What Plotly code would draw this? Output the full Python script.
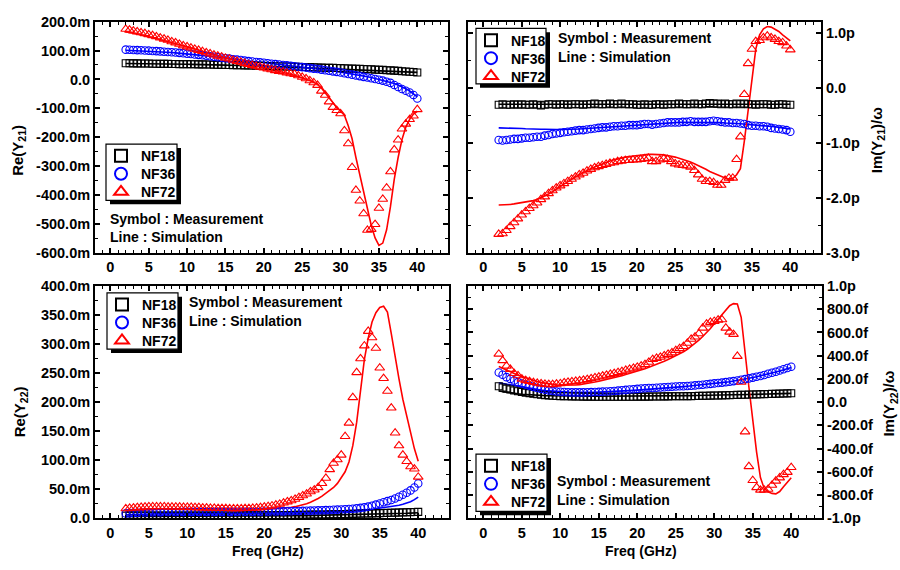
import plotly.graph_objects as go

FONT = "Liberation Sans, Arial, Helvetica, sans-serif"

# ---------------------------------------------------------------- data
freq = [
    2.0, 2.5, 3.0, 3.5, 4.0, 4.5, 5.0, 5.5, 6.0, 6.5,
    7.0, 7.5, 8.0, 8.5, 9.0, 9.5, 10.0, 10.5, 11.0, 11.5,
    12.0, 12.5, 13.0, 13.5, 14.0, 14.5, 15.0, 15.5, 16.0, 16.5,
    17.0, 17.5, 18.0, 18.5, 19.0, 19.5, 20.0, 20.5, 21.0, 21.5,
    22.0, 22.5, 23.0, 23.5, 24.0, 24.5, 25.0, 25.5, 26.0, 26.5,
    27.0, 27.5, 28.0, 28.5, 29.0, 29.5, 30.0, 30.5, 31.0, 31.5,
    32.0, 32.5, 33.0, 33.5, 34.0, 34.5, 35.0, 35.5, 36.0, 36.5,
    37.0, 37.5, 38.0, 38.5, 39.0, 39.5, 40.0]

devices = ["NF18", "NF36", "NF72"]

# Re(Y21) in mS
re21_nf18_meas = [
    56, 56, 55.5, 55.5, 55, 55, 55, 54.5, 54.5, 54,
    54, 54, 53.5, 53.5, 53, 53, 53, 52.5, 52.5, 52,
    52, 51.5, 51.5, 51, 51, 50.5, 50, 50, 49.5, 49,
    49, 48.5, 48, 48, 47.5, 47, 47, 46.5, 46, 45.5,
    45.5, 45, 45, 44.5, 44, 43.5, 43, 43, 42.5, 42,
    41.5, 41, 40.5, 40, 40, 39.5, 39, 38.5, 38, 37.5,
    37, 36.5, 36, 35.5, 35, 34, 33.5, 33, 32, 31.5,
    30.5, 29.5, 28.5, 27.5, 26.5, 25.5, 24]
re21_nf18_sim = [
    55, 55, 55, 55, 54.5, 54.5, 54.5, 54, 54, 54,
    53.5, 53.5, 53.5, 53, 53, 52.5, 52.5, 52, 52, 51.5,
    51.5, 51, 51, 50.5, 50, 50, 49.5, 49, 49, 48.5,
    48, 48, 47.5, 47, 46.5, 46.5, 46, 45.5, 45, 44.5,
    44, 44, 43.5, 43, 42.5, 42, 41.5, 41, 40.5, 40,
    39.5, 39, 38.5, 38, 37.5, 37, 36.5, 36, 35.5, 35,
    34.5, 34, 33.5, 33, 32.5, 32, 31.5, 31, 30, 29.5,
    29, 28, 27.5, 26.5, 26, 25, 24.5]
re21_nf36_meas = [
    103, 102.5, 102, 101.5, 101, 100, 99.5, 98.5, 98, 97,
    96, 95, 94, 93, 92, 90.5, 89, 88, 86.5, 85,
    83.5, 82, 80, 78.5, 77, 75, 73.5, 72, 70, 68.5,
    67, 65, 63.5, 62, 60.5, 59, 57.5, 56, 54.5, 53,
    51.5, 50, 48.5, 47, 45.5, 44, 42.5, 41, 39, 37.5,
    36, 34, 32, 30, 28, 26, 24, 21.5, 19, 16.5,
    14, 11.5, 9, 6.5, 4, 1.5, -1, -4, -8, -12,
    -19, -26, -33, -39, -45, -54, -66]
re21_nf36_sim = [
    101, 100.5, 100, 99.5, 99, 98.5, 98, 97.5, 96.5, 96,
    95, 94, 93, 92, 91, 89.5, 88.5, 87, 86, 84.5,
    83, 81.5, 80, 78.5, 77, 75.5, 74, 72.5, 71, 69.5,
    68, 66.5, 65, 63.5, 62, 60.5, 59, 57.5, 56, 54.5,
    53, 51.5, 50, 48.5, 47, 45.5, 44, 42.5, 41, 39,
    37.5, 36, 34, 32, 30, 28, 26, 24, 22, 19.5,
    17, 14.5, 12, 9.5, 6.5, 3.5, 0.5, -3, -6.5, -10,
    -14, -19, -25, -32, -40, -49, -60]
re21_nf72_meas = [
    174, 171, 168, 165, 162, 159, 155, 152, 148, 144,
    140, 136, 131, 127, 122, 117, 113, 109, 105, 101,
    97, 93, 89, 85, 81, 78, 74, 71, 67, 63,
    60, 56, 52, 49, 46, 43, 40, 37, 34, 31,
    28, 26, 23, 20, 18, 13, 8, 3, -4, -11,
    -20, -40, -54, -77, -96, -107, -118, -177, -222, -304,
    -383, -420, -464, -521, -518, -501, -445, -414, -375, -319,
    -243, -209, -171, -154, -138, -126, -104]
re21_nf72_sim = [
    165, 163, 160, 157, 154, 151, 148, 145, 142, 138,
    135, 131, 128, 124, 120, 116, 112, 108, 104, 100,
    97, 93, 89, 85.5, 82, 78.5, 75, 71, 67.5, 64,
    60, 57, 53.5, 50, 47, 44, 41, 38, 35, 32,
    28.5, 25, 21.5, 18, 14, 10, 5.5, 1, -4, -10,
    -17, -30, -48, -64, -80, -96, -110, -124, -160, -205,
    -270, -330, -395, -455, -505, -548, -574, -566, -520, -440,
    -345, -270, -208, -165, -138, -120, -110]

# Im(Y21)/omega in pF
im21_nf18_meas = [
    -0.31, -0.30, -0.31, -0.31, -0.30, -0.31, -0.30, -0.31, -0.31, -0.30,
    -0.31, -0.32, -0.31, -0.30, -0.30, -0.31, -0.30, -0.30, -0.31, -0.30,
    -0.30, -0.30, -0.31, -0.30, -0.30, -0.29, -0.30, -0.30, -0.30, -0.29,
    -0.30, -0.30, -0.29, -0.30, -0.30, -0.30, -0.31, -0.31, -0.30, -0.31,
    -0.31, -0.30, -0.30, -0.31, -0.30, -0.30, -0.30, -0.29, -0.30, -0.30,
    -0.30, -0.29, -0.30, -0.30, -0.29, -0.28, -0.29, -0.29, -0.30, -0.29,
    -0.30, -0.30, -0.29, -0.30, -0.29, -0.30, -0.30, -0.31, -0.30, -0.30,
    -0.30, -0.31, -0.31, -0.30, -0.30, -0.31, -0.31]
im21_nf18_sim = [
    -0.30, -0.30, -0.30, -0.30, -0.30, -0.30, -0.30, -0.30, -0.30, -0.30,
    -0.30, -0.30, -0.30, -0.30, -0.30, -0.30, -0.30, -0.30, -0.30, -0.30,
    -0.30, -0.30, -0.30, -0.30, -0.30, -0.30, -0.30, -0.30, -0.30, -0.30,
    -0.30, -0.30, -0.30, -0.30, -0.30, -0.30, -0.30, -0.30, -0.30, -0.30,
    -0.30, -0.30, -0.30, -0.30, -0.30, -0.30, -0.30, -0.30, -0.30, -0.30,
    -0.30, -0.30, -0.30, -0.30, -0.30, -0.30, -0.30, -0.30, -0.30, -0.30,
    -0.30, -0.30, -0.30, -0.30, -0.30, -0.30, -0.30, -0.30, -0.30, -0.30,
    -0.30, -0.30, -0.30, -0.30, -0.30, -0.30, -0.30]
im21_nf36_meas = [
    -0.95, -0.96, -0.95, -0.94, -0.93, -0.93, -0.92, -0.91, -0.91, -0.90,
    -0.89, -0.89, -0.87, -0.86, -0.84, -0.83, -0.82, -0.81, -0.80, -0.79,
    -0.78, -0.77, -0.77, -0.76, -0.75, -0.74, -0.73, -0.72, -0.72, -0.71,
    -0.70, -0.70, -0.69, -0.69, -0.68, -0.68, -0.68, -0.67, -0.66, -0.66,
    -0.67, -0.66, -0.65, -0.64, -0.63, -0.63, -0.63, -0.63, -0.62, -0.62,
    -0.61, -0.62, -0.62, -0.62, -0.62, -0.61, -0.60, -0.61, -0.62, -0.63,
    -0.63, -0.64, -0.64, -0.65, -0.66, -0.68, -0.69, -0.69, -0.70, -0.70,
    -0.71, -0.73, -0.74, -0.75, -0.76, -0.77, -0.80]
im21_nf36_sim = [
    -0.73, -0.73, -0.73, -0.735, -0.74, -0.74, -0.74, -0.745, -0.75, -0.75,
    -0.75, -0.755, -0.755, -0.76, -0.76, -0.76, -0.76, -0.76, -0.76, -0.755,
    -0.75, -0.75, -0.745, -0.74, -0.735, -0.73, -0.725, -0.72, -0.715, -0.71,
    -0.705, -0.70, -0.695, -0.69, -0.685, -0.68, -0.675, -0.67, -0.665, -0.66,
    -0.655, -0.65, -0.645, -0.64, -0.64, -0.635, -0.635, -0.63, -0.63, -0.63,
    -0.625, -0.625, -0.625, -0.625, -0.625, -0.63, -0.63, -0.63, -0.635, -0.64,
    -0.64, -0.645, -0.65, -0.655, -0.66, -0.665, -0.67, -0.675, -0.68, -0.69,
    -0.695, -0.70, -0.71, -0.72, -0.73, -0.74, -0.75]
im21_nf72_meas = [
    -2.66, -2.65, -2.59, -2.52, -2.45, -2.38, -2.31, -2.25, -2.19, -2.14,
    -2.09, -2.03, -1.98, -1.92, -1.87, -1.82, -1.78, -1.74, -1.70, -1.66,
    -1.62, -1.58, -1.55, -1.51, -1.48, -1.45, -1.43, -1.41, -1.39, -1.37,
    -1.36, -1.34, -1.33, -1.32, -1.32, -1.31, -1.31, -1.30, -1.29, -1.28,
    -1.34, -1.34, -1.31, -1.29, -1.30, -1.34, -1.38, -1.40, -1.41, -1.42,
    -1.44, -1.50, -1.58, -1.66, -1.70, -1.70, -1.72, -1.77, -1.77, -1.68,
    -1.64, -1.64, -1.30, -0.89, -0.12, 0.44, 0.70, 0.84, 0.86, 0.91,
    0.94, 0.91, 0.88, 0.84, 0.82, 0.76, 0.69]
im21_nf72_sim = [
    -2.13, -2.13, -2.12, -2.12, -2.11, -2.10, -2.09, -2.08, -2.06, -2.05,
    -2.03, -2.00, -1.97, -1.93, -1.89, -1.84, -1.80, -1.75, -1.71, -1.66,
    -1.62, -1.58, -1.54, -1.50, -1.47, -1.44, -1.41, -1.38, -1.35, -1.33,
    -1.31, -1.29, -1.27, -1.26, -1.25, -1.24, -1.23, -1.22, -1.22, -1.21,
    -1.21, -1.21, -1.21, -1.22, -1.23, -1.24, -1.26, -1.28, -1.30, -1.32,
    -1.35, -1.38, -1.41, -1.45, -1.48, -1.52, -1.55, -1.59, -1.62, -1.64,
    -1.66, -1.65, -1.58, -1.47, -0.98, -0.42, 0.20, 0.70, 0.96, 1.07,
    1.11, 1.10, 1.06, 1.02, 0.96, 0.90, 0.85]

# Re(Y22) in mS
re22_nf18_meas = [
    4.5, 4.5, 4.5, 4.5, 4.5, 4.5, 4.5, 4.5, 4.5, 4.5,
    4.5, 4.5, 4.5, 4.5, 4.5, 4.5, 4.5, 4.5, 4.5, 4.5,
    4.6, 4.6, 4.6, 4.6, 4.7, 4.7, 4.7, 4.8, 4.8, 4.8,
    4.9, 4.9, 5.0, 5.0, 5.1, 5.1, 5.2, 5.2, 5.3, 5.4,
    5.5, 5.5, 5.6, 5.7, 5.8, 5.9, 6.0, 6.1, 6.2, 6.3,
    6.4, 6.5, 6.6, 6.8, 6.9, 7.0, 7.2, 7.3, 7.5, 7.6,
    7.8, 8.0, 8.1, 8.3, 8.5, 8.7, 8.9, 9.1, 9.3, 9.5,
    9.7, 9.9, 10.1, 10.3, 10.6, 10.8, 11.0]
re22_nf18_sim = [
    3.2, 3.2, 3.2, 3.2, 3.2, 3.2, 3.2, 3.2, 3.2, 3.2,
    3.2, 3.2, 3.2, 3.2, 3.2, 3.3, 3.3, 3.3, 3.3, 3.3,
    3.3, 3.4, 3.4, 3.4, 3.4, 3.5, 3.5, 3.5, 3.6, 3.6,
    3.6, 3.7, 3.7, 3.8, 3.8, 3.9, 3.9, 4.0, 4.0, 4.1,
    4.2, 4.2, 4.3, 4.4, 4.5, 4.5, 4.6, 4.7, 4.8, 4.9,
    5.0, 5.1, 5.2, 5.3, 5.4, 5.5, 5.7, 5.8, 5.9, 6.1,
    6.2, 6.4, 6.5, 6.7, 6.9, 7.0, 7.2, 7.4, 7.6, 7.8,
    8.0, 8.2, 8.4, 8.6, 8.9, 9.1, 9.4]
re22_nf36_meas = [
    8.4, 8.8, 9.2, 9.5, 9.8, 10.0, 10.2, 10.4, 10.5, 10.6,
    10.7, 10.8, 10.8, 10.9, 10.9, 11.0, 11.0, 11.0, 11.0, 11.0,
    11.0, 11.0, 11.0, 11.0, 11.0, 11.0, 11.0, 11.0, 11.0, 11.1,
    11.1, 11.1, 11.2, 11.2, 11.3, 11.3, 11.4, 11.5, 11.6, 11.7,
    11.8, 11.9, 12.0, 12.2, 12.4, 12.6, 12.8, 13.0, 13.2, 13.4,
    13.6, 13.8, 14.0, 14.3, 14.6, 14.9, 15.2, 15.6, 16.0, 16.5,
    17.0, 17.8, 18.8, 20.0, 21.5, 23.5, 25.5, 27.5, 29.5, 31.5,
    34.0, 37.0, 40.5, 44.0, 48.0, 53.0, 60.0]
re22_nf36_sim = [
    6.0, 6.3, 6.6, 6.9, 7.1, 7.3, 7.5, 7.6, 7.7, 7.8,
    7.9, 8.0, 8.0, 8.1, 8.1, 8.1, 8.2, 8.2, 8.2, 8.2,
    8.2, 8.2, 8.2, 8.2, 8.2, 8.2, 8.2, 8.2, 8.3, 8.3,
    8.3, 8.3, 8.4, 8.4, 8.5, 8.5, 8.6, 8.7, 8.8, 8.85,
    8.9, 9.0, 9.1, 9.2, 9.3, 9.4, 9.5, 9.6, 9.7, 9.85,
    10.0, 10.2, 10.4, 10.6, 10.9, 11.2, 11.5, 11.9, 12.3, 12.7,
    13.2, 13.7, 14.3, 14.9, 15.6, 16.4, 17.2, 18.1, 19.1, 20.1,
    21.2, 22.5, 24.0, 26.0, 28.5, 32.0, 36.5]
re22_nf72_meas = [
    16.5, 17.5, 18.0, 18.5, 19.0, 19.5, 20.0, 20.0, 20.0, 20.0,
    20.0, 19.5, 19.5, 19.5, 19.5, 19.0, 19.0, 19.0, 18.5, 18.5,
    18.0, 18.0, 17.5, 17.5, 17.0, 17.0, 17.0, 16.5, 16.5, 16.5,
    16.5, 17.0, 17.0, 17.5, 18.0, 18.5, 19.5, 20.5, 21.5, 23.0,
    24.5, 26.5, 28.5, 30.5, 33.0, 36.0, 39.0, 42.0, 46.0, 49.0,
    53, 60, 69, 84, 95, 101, 109, 141, 164, 208,
    251, 275, 297, 322, 311, 293, 259, 241, 219, 190,
    147, 125, 109, 98, 89, 85, 71]
re22_nf72_sim = [
    12, 12.5, 13, 13.5, 14, 14.5, 15, 15, 15.5, 15.5,
    15.5, 15.5, 15.5, 15.5, 15.5, 15.5, 15, 15, 15, 15,
    14.5, 14.5, 14.5, 14, 14, 14, 14, 14, 14, 14,
    14, 14, 14, 14.5, 14.5, 15, 15, 15.5, 16, 16,
    16.5, 17, 18, 19, 20, 21.5, 23, 25, 27.5, 30.5,
    34, 38, 42.5, 47.5, 53, 60, 69, 80, 97, 125,
    165, 218, 273, 310, 338, 354, 363, 365, 355, 318,
    277, 240, 205, 175, 145, 120, 98]

# Im(Y22)/omega in fF
im22_nf18_meas = [
    136, 126, 116, 108, 100, 94, 88, 82, 77, 72,
    68, 64, 60, 57, 55, 53, 52, 51, 50, 49,
    48, 48, 47, 47, 47, 46, 46, 46, 46, 46,
    46, 46, 46, 46, 46, 46, 47, 47, 47, 47,
    48, 48, 48, 49, 49, 50, 50, 51, 51, 52,
    52, 53, 54, 54, 55, 56, 57, 57, 58, 59,
    60, 61, 62, 63, 64, 65, 66, 67, 68, 69,
    70, 71, 72, 73, 74, 75, 76]
im22_nf18_sim = [
    96, 90, 84, 79, 75, 71, 68, 65, 62, 60,
    58, 57, 56, 55, 54, 53, 52, 52, 51, 51,
    50, 50, 50, 50, 50, 50, 50, 50, 50, 50,
    50, 50, 50, 50, 50, 51, 51, 51, 51, 52,
    52, 52, 53, 53, 53, 54, 54, 55, 55, 56,
    56, 57, 57, 58, 58, 59, 60, 60, 61, 62,
    62, 63, 64, 64, 65, 66, 67, 67, 68, 69,
    70, 71, 71, 72, 73, 74, 75]
im22_nf36_meas = [
    255, 235, 215, 200, 186, 172, 160, 150, 140, 131,
    122, 114, 107, 101, 96, 92, 89, 87, 85, 84,
    84, 84, 84, 85, 86, 87, 88, 90, 92, 94,
    96, 99, 102, 105, 108, 111, 114, 117, 119, 121,
    122, 124, 126, 128, 130, 132, 134, 136, 137, 139,
    141, 144, 147, 150, 154, 157, 161, 164, 168, 172,
    176, 181, 186, 192, 198, 204, 211, 218, 225, 233,
    244, 253, 262, 272, 283, 294, 305]
im22_nf36_sim = [
    166, 160, 153, 146, 139, 133, 127, 121, 116, 111,
    107, 103, 99, 96, 93, 91, 89, 87, 86, 85,
    84, 84, 84, 84, 85, 85, 86, 87, 88, 89,
    91, 93, 95, 97, 99, 101, 103, 105, 107, 109,
    112, 114, 117, 119, 122, 125, 127, 130, 133, 136,
    139, 142, 146, 149, 153, 157, 161, 165, 169, 172,
    176, 181, 187, 193, 199, 205, 212, 219, 226, 234,
    242, 250, 259, 268, 278, 288, 298]
im22_nf72_meas = [
    414, 358, 311, 283, 247, 228, 199, 186, 178, 170,
    163, 158, 154, 152, 152, 156, 160, 168, 172, 176,
    180, 185, 190, 196, 203, 210, 217, 225, 233, 240,
    248, 256, 265, 275, 284, 293, 302, 312, 325, 345,
    368, 378, 388, 400, 412, 425, 445, 462, 480, 508,
    543, 562, 590, 638, 674, 688, 696, 707, 710, 638,
    604, 584, 395, 172, -255, -554, -674, -735, -757, -757,
    -749, -715, -679, -651, -623, -604, -562]
im22_nf72_sim = [
    306, 290, 274, 259, 245, 232, 220, 208, 197, 187,
    178, 170, 163, 157, 152, 148, 146, 145, 145, 146,
    148, 151, 155, 160, 166, 173, 180, 187, 195, 203,
    211, 219, 228, 237, 246, 256, 266, 277, 288, 300,
    312, 325, 338, 352, 367, 382, 398, 415, 433, 455,
    480, 505, 534, 565, 598, 634, 674, 715, 755, 795,
    830, 848, 845, 730, 413, 130, -150, -430, -650, -745,
    -772, -786, -790, -770, -728, -690, -651]

# tick positions and labels
freq_ticks = [0, 5, 10, 15, 20, 25, 30, 35, 40]
freq_ticklabels = ["0", "5", "10", "15", "20", "25", "30", "35", "40"]
re21_ticks = [-600, -500, -400, -300, -200, -100, 0, 100, 200]
re21_ticklabels = ["-600.0m", "-500.0m", "-400.0m", "-300.0m", "-200.0m",
                   "-100.0m", "0.0", "100.0m", "200.0m"]
im21_ticks = [-3, -2, -1, 0, 1]
im21_ticklabels = ["-3.0p", "-2.0p", "-1.0p", "0.0", "1.0p"]
re22_ticks = [0, 50, 100, 150, 200, 250, 300, 350, 400]
re22_ticklabels = ["0.0", "50.0m", "100.0m", "150.0m", "200.0m",
                   "250.0m", "300.0m", "350.0m", "400.0m"]
im22_ticks = [-1000, -800, -600, -400, -200, 0, 200, 400, 600, 800, 1000]
im22_ticklabels = ["-1.0p", "-800.0f", "-600.0f", "-400.0f", "-200.0f", "0.0",
                   "200.0f", "400.0f", "600.0f", "800.0f", "1.0p"]

for series in (re21_nf18_meas, re21_nf18_sim, re21_nf36_meas, re21_nf36_sim,
               re21_nf72_meas, re21_nf72_sim, im21_nf18_meas, im21_nf18_sim,
               im21_nf36_meas, im21_nf36_sim, im21_nf72_meas, im21_nf72_sim,
               re22_nf18_meas, re22_nf18_sim, re22_nf36_meas, re22_nf36_sim,
               re22_nf72_meas, re22_nf72_sim, im22_nf18_meas, im22_nf18_sim,
               im22_nf36_meas, im22_nf36_sim, im22_nf72_meas, im22_nf72_sim):
    assert len(series) == len(freq)

# ---------------------------------------------------------------- styling
W, H = 900, 570
colors = ["#000000", "#0000FF", "#FF0000"]
symbols = ["square-open", "circle-open", "triangle-up-open"]
sizes = [7, 7.5, 8.5]
row_offsets = [12.5, 31, 49.5]   # legend rows below the top of each legend frame


def fx(px):
    return px / W


def fy(py):
    return 1 - py / H


def bold(size):
    return dict(family=FONT, size=size, color="black", weight="bold")


panels = [
    dict(x="x", y="y", xd=(95, 448), yd=(14, 252),
         meas=[re21_nf18_meas, re21_nf36_meas, re21_nf72_meas],
         sim=[re21_nf18_sim, re21_nf36_sim, re21_nf72_sim],
         yr=[-600, 200], yt=(re21_ticks, re21_ticklabels), ymin=50, side="left",
         leg=(106, 140, 71, 58), note=(108, 217),
         ytitle="Re(Y<sub>21</sub>)", ytpos=(19, 147), xtitle=False),
    dict(x="x2", y="y2", xd=(468, 821), yd=(14, 252),
         meas=[im21_nf18_meas, im21_nf36_meas, im21_nf72_meas],
         sim=[im21_nf18_sim, im21_nf36_sim, im21_nf72_sim],
         yr=[-3, 1.2], yt=(im21_ticks, im21_ticklabels), ymin=0.5, side="right",
         leg=(476, 21, 70, 57), note=(556, 31),
         ytitle="Im(Y<sub>21</sub>)/ω", ytpos=(877, 136), xtitle=False),
    dict(x="x3", y="y3", xd=(95, 449), yd=(286, 525),
         meas=[re22_nf18_meas, re22_nf36_meas, re22_nf72_meas],
         sim=[re22_nf18_sim, re22_nf36_sim, re22_nf72_sim],
         yr=[0, 400], yt=(re22_ticks, re22_ticklabels), ymin=25, side="left",
         leg=(107, 293, 71, 58), note=(187, 303),
         ytitle="Re(Y<sub>22</sub>)", ytpos=(20, 416), xtitle=True),
    dict(x="x4", y="y4", xd=(468, 822), yd=(286, 525),
         meas=[im22_nf18_meas, im22_nf36_meas, im22_nf72_meas],
         sim=[im22_nf18_sim, im22_nf36_sim, im22_nf72_sim],
         yr=[-1000, 1000], yt=(im22_ticks, im22_ticklabels), ymin=100, side="right",
         leg=(476, 459, 71, 59), note=(555, 487),
         ytitle="Im(Y<sub>22</sub>)/ω", ytpos=(890, 407), xtitle=True),
]

fig = go.Figure()
layout = dict(width=W, height=H, margin=dict(l=0, r=0, t=0, b=0),
              paper_bgcolor="white", plot_bgcolor="white",
              font=bold(14), showlegend=True)
shapes, annotations = [], []
legend_count = 0

for i, p in enumerate(panels):
    n = "" if i == 0 else str(i + 1)
    lx, ly, lw, lh = p["leg"]
    # simulation curves
    for k in range(3):
        fig.add_trace(go.Scatter(
            x=freq, y=p["sim"][k], xaxis=p["x"], yaxis=p["y"], mode="lines",
            line=dict(color=colors[k], width=1.6), showlegend=False,
            hoverinfo="skip"))
    # measured points, each with its own one-row legend inside the frame
    for k in range(3):
        legend_count += 1
        lname = "legend" if legend_count == 1 else "legend%d" % legend_count
        fig.add_trace(go.Scatter(
            x=freq, y=p["meas"][k], xaxis=p["x"], yaxis=p["y"], mode="markers",
            name=devices[k], legend=lname,
            marker=dict(symbol=symbols[k], size=sizes[k], color=colors[k],
                        line=dict(width=1.1, color=colors[k]))))
        layout[lname] = dict(
            x=fx(lx - 5), y=fy(ly + row_offsets[k]), xanchor="left",
            yanchor="middle", bgcolor="rgba(0,0,0,0)", borderwidth=0,
            font=bold(14), itemsizing="constant")

    common = dict(showline=True, linewidth=2, linecolor="black", mirror="allticks",
                  ticks="inside", ticklen=5, tickwidth=1.5, tickcolor="black",
                  showgrid=False, zeroline=False, tickfont=bold(14.5),
                  tickmode="array")
    minor = dict(ticks="inside", ticklen=3, tickwidth=1.2, tickcolor="black", tick0=0)
    layout["xaxis" + n] = dict(
        common, domain=[fx(p["xd"][0]), fx(p["xd"][1])], anchor=p["y"],
        range=[-2, 44], tickvals=freq_ticks, ticktext=freq_ticklabels,
        minor=dict(minor, dtick=1))
    layout["yaxis" + n] = dict(
        common, domain=[fy(p["yd"][1]), fy(p["yd"][0])], anchor=p["x"],
        side=p["side"], range=p["yr"], tickvals=p["yt"][0], ticktext=p["yt"][1],
        minor=dict(minor, dtick=p["ymin"]))

    # legend frame with drop shadow
    shapes.append(dict(type="rect", xref="paper", yref="paper", layer="above",
                       x0=fx(lx + 4), x1=fx(lx + lw + 4), y0=fy(ly + lh + 4), y1=fy(ly + 4),
                       fillcolor="black", line=dict(width=0)))
    shapes.append(dict(type="rect", xref="paper", yref="paper", layer="above",
                       x0=fx(lx), x1=fx(lx + lw), y0=fy(ly + lh), y1=fy(ly),
                       fillcolor="white", line=dict(color="black", width=1.2)))

    nx, ny = p["note"]
    annotations.append(dict(xref="paper", yref="paper", x=fx(nx), y=fy(ny),
                            xanchor="left", yanchor="middle", showarrow=False,
                            text="Symbol : Measurement", font=bold(14)))
    annotations.append(dict(xref="paper", yref="paper", x=fx(nx), y=fy(ny + 19),
                            xanchor="left", yanchor="middle", showarrow=False,
                            text="Line : Simulation", font=bold(14)))
    tx, ty = p["ytpos"]
    annotations.append(dict(xref="paper", yref="paper", x=fx(tx), y=fy(ty),
                            xanchor="center", yanchor="middle", showarrow=False,
                            textangle=-90, text=p["ytitle"], font=bold(15)))
    if p["xtitle"]:
        cx = (p["xd"][0] + p["xd"][1]) / 2
        annotations.append(dict(xref="paper", yref="paper", x=fx(cx - 4), y=fy(559),
                                xanchor="center", yanchor="middle", showarrow=False,
                                borderpad=0, text="Freq (GHz)", font=bold(14)))

layout["shapes"] = shapes
layout["annotations"] = annotations
fig.update_layout(**layout)
fig.write_html("out.html")
